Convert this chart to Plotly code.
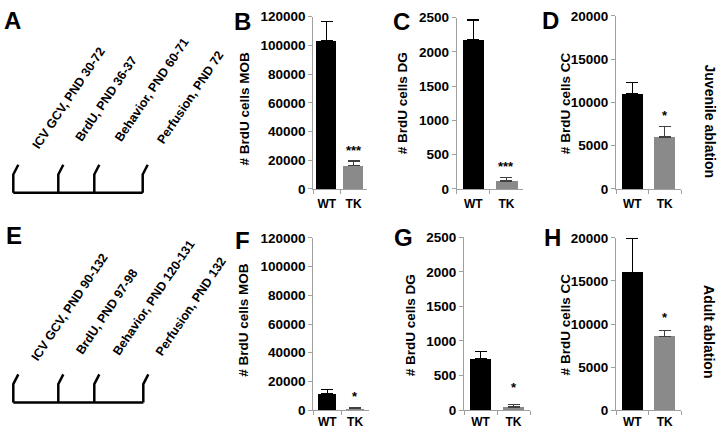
import plotly.graph_objects as go

W, H = 720, 443
FONT = "Liberation Sans, Arial, sans-serif"
AX = "#a0a0a0"

# ---------------- data ----------------
panels = ["B", "C", "D", "F", "G", "H"]
groups = ["WT", "TK"]
y_titles = ["# BrdU cells MOB", "# BrdU cells DG", "# BrdU cells CC",
            "# BrdU cells MOB", "# BrdU cells DG", "# BrdU cells CC"]
wt_mean = [103500, 2180, 11030, 11640, 743, 16000]
wt_sem = [13000, 285, 1300, 2900, 102, 3950]
tk_mean = [16100, 117, 6000, 1100, 46, 8580]
tk_sem = [3350, 46, 1180, 900, 32, 670]
y_max = [120000, 2500, 20000, 120000, 2500, 20000]
y_step = [20000, 500, 5000, 20000, 500, 5000]
signif = ["***", "***", "*", "*", "*", "*"]

row_labels = ["Juvenile ablation", "Adult ablation"]
juvenile_events = ["ICV GCV, PND 30-72", "BrdU, PND 36-37",
                   "Behavior, PND 60-71", "Perfusion, PND 72"]
adult_events = ["ICV GCV, PND 90-132", "BrdU, PND 97-98",
                "Behavior, PND 120-131", "Perfusion, PND 132"]


# ---------------- layout helpers (pixel -> paper) ----------------
def px(x):
    return x / W


def py(y):
    return 1 - y / H


# per-panel geometry in pixels: axis left/right, top/bottom, bar width,
# y-title centre, panel letter centre, star shift, x-label standoff
geom = {
    "B": dict(x0=313.3, x1=367, y0=10, y1=188.3, bw=0.74, tx=244, ty=105, lx=242.5, ly=15, ss=1, so=4),
    "C": dict(x0=456.7, x1=523, y0=11, y1=188.3, bw=0.65, tx=402.7, ty=100, lx=401, ly=15, ss=2, so=4),
    "D": dict(x0=616, x1=681, y0=9.3, y1=188.3, bw=0.66, tx=565, ty=99.5, lx=550, ly=13.5, ss=2, so=4),
    "F": dict(x0=313.3, x1=369, y0=239, y1=417.3, bw=0.66, tx=243.3, ty=323.5, lx=242.5, ly=242, ss=1, so=0),
    "G": dict(x0=464, x1=530, y0=238.3, y1=417.3, bw=0.66, tx=410, ty=329.5, lx=403, ly=239, ss=8, so=0),
    "H": dict(x0=616, x1=681, y0=239, y1=417.3, bw=0.66, tx=565, ty=328.5, lx=552.5, ly=239, ss=3, so=0),
}

fig = go.Figure()
annotations = []
shapes = []
axes = {}

for i, p in enumerate(panels):
    g = geom[p]
    n = "" if i == 0 else str(i + 1)
    xa, ya = "x" + n, "y" + n
    fig.add_trace(go.Bar(
        x=[groups[0]], y=[wt_mean[i]], width=g["bw"], marker_color="black",
        marker_line_width=0,
        error_y=dict(type="data", array=[wt_sem[i]], arrayminus=[0], symmetric=False,
                     color="black", thickness=1.3, width=6),
        xaxis=xa, yaxis=ya, showlegend=False, hoverinfo="skip"))
    fig.add_trace(go.Bar(
        x=[groups[1]], y=[tk_mean[i]], width=g["bw"], marker_color="#8a8a8a",
        marker_line_width=0,
        error_y=dict(type="data", array=[tk_sem[i]], arrayminus=[0], symmetric=False,
                     color="#404040", thickness=1.3, width=6),
        xaxis=xa, yaxis=ya, showlegend=False, hoverinfo="skip"))

    axes["xaxis" + n] = dict(
        domain=[px(g["x0"]), px(g["x1"])], anchor=ya, type="category",
        categoryorder="array", categoryarray=groups, range=[-0.5, 1.5],
        showline=True, linecolor=AX, linewidth=1, ticks="outside",
        tickson="boundaries", ticklen=4, tickcolor=AX, tickwidth=1, tickangle=0,
        ticklabelstandoff=g["so"],
        tickfont=dict(family=FONT, size=12, color="black", weight="bold"),
        showgrid=False, zeroline=False, fixedrange=True)
    axes["yaxis" + n] = dict(
        domain=[py(g["y1"]), py(g["y0"])], anchor=xa, range=[0, y_max[i]],
        tick0=0, dtick=y_step[i], tickformat="d",
        showline=True, linecolor=AX, linewidth=1, ticks="outside",
        ticklen=4, tickcolor=AX, tickwidth=1,
        tickfont=dict(family=FONT, size=13.5, color="black", weight="bold"),
        showgrid=False, zeroline=False, fixedrange=True)

    # y title
    annotations.append(dict(
        text=y_titles[i], x=px(g["tx"]), y=py(g["ty"]), xref="paper", yref="paper",
        xanchor="center", yanchor="middle", textangle=-90, showarrow=False,
        font=dict(family=FONT, size=13.5, color="black", weight="bold")))
    # panel letter
    annotations.append(dict(
        text=p, x=px(g["lx"]), y=py(g["ly"]), xref="paper", yref="paper",
        xanchor="center", yanchor="middle", showarrow=False,
        font=dict(family=FONT, size=24, color="black", weight="bold")))
    # significance stars
    annotations.append(dict(
        text=signif[i], x=groups[1], y=tk_mean[i] + tk_sem[i], xref=xa, yref=ya,
        xanchor="center", yanchor="bottom", yshift=g["ss"], showarrow=False,
        font=dict(family=FONT, size=13, color="black", weight="bold")))

# row labels on the right
for lab, cy in zip(row_labels, [118, 336]):
    annotations.append(dict(
        text=lab, x=px(709.5), y=py(cy), xref="paper", yref="paper",
        xanchor="center", yanchor="middle", textangle=90, showarrow=False,
        font=dict(family=FONT, size=14, color="black", weight="bold")))

# panel letters A and E
for lab, cx, cy in [("A", 12, 13.5), ("E", 14, 236)]:
    annotations.append(dict(
        text=lab, x=px(cx), y=py(cy), xref="paper", yref="paper",
        xanchor="center", yanchor="middle", showarrow=False,
        font=dict(family=FONT, size=24, color="black", weight="bold")))

# timeline schematics (A, E)
timelines = [
    dict(events=juvenile_events, base=192.3, ticks=[13.3, 58.3, 94.3, 142.7],
         starts=[(30, 155), (73, 148), (112, 148), (154, 150)]),
    dict(events=adult_events, base=409.3, ticks=[13.3, 58.3, 94.3, 143.3],
         starts=[(29.3, 375), (73.3, 367.7), (110, 369.3), (152.7, 369.3)]),
]
ANG = 56
for tl in timelines:
    b = tl["base"]
    path = "M {},{} L {},{}".format(px(tl["ticks"][0]), py(b), px(tl["ticks"][-1]), py(b))
    for tx in tl["ticks"]:
        path += " M {},{} L {},{} L {},{}".format(
            px(tx), py(b), px(tx), py(b - 19), px(tx + 5), py(b - 29))
    shapes.append(dict(type="path", path=path, xref="paper", yref="paper",
                       line=dict(color="black", width=2.5)))
    for ev, (sx, sy) in zip(tl["events"], tl["starts"]):
        annotations.append(dict(
            text=ev, x=px(sx - 3), y=py(sy - 3), xref="paper", yref="paper",
            xanchor="left", yanchor="bottom", textangle=-ANG, showarrow=False,
            font=dict(family=FONT, size=12.5, color="black", weight="bold")))

fig.update_layout(
    width=W, height=H, autosize=False,
    margin=dict(l=0, r=0, t=0, b=0),
    paper_bgcolor="white", plot_bgcolor="white",
    barmode="overlay", bargap=0,
    annotations=annotations, shapes=shapes,
    **axes)

fig.write_html("out.html", config={"displayModeBar": False},
               post_script="document.body.style.margin='0';document.body.style.padding='0';")
